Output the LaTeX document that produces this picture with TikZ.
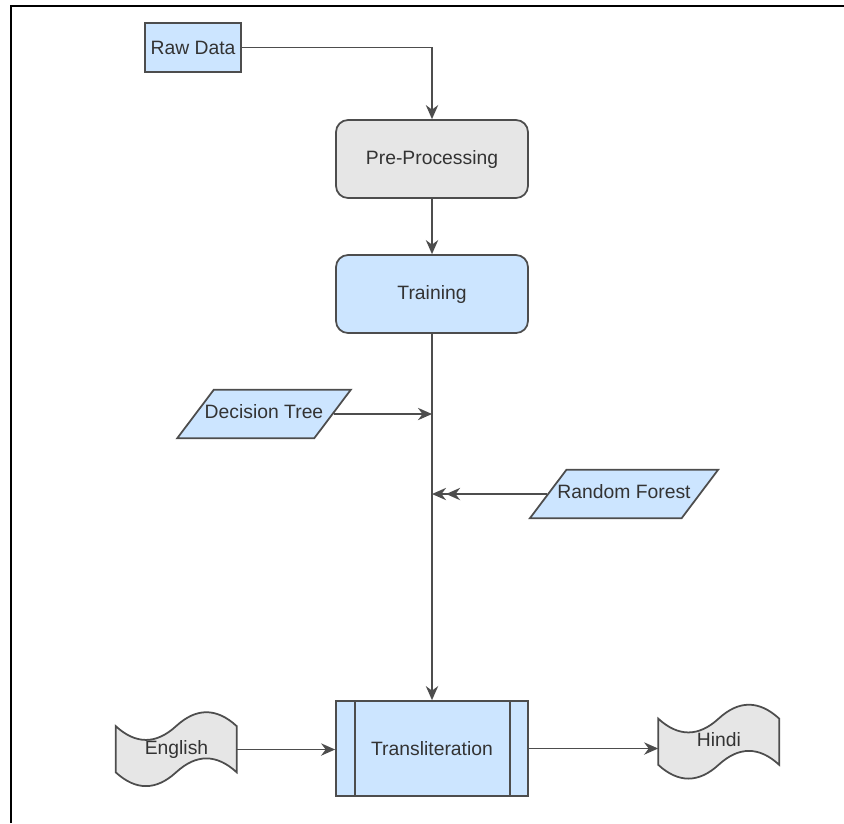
\documentclass[tikz,border=0pt]{standalone}
\usepackage{fontspec}
\setmainfont{Liberation Sans}
\usetikzlibrary{shapes.geometric,arrows.meta}

\definecolor{boxblue}{HTML}{CCE5FF}
\definecolor{boxgray}{HTML}{E6E6E6}
\definecolor{edgegray}{HTML}{4D4D4D}
\definecolor{textgray}{HTML}{333333}

\tikzset{
    box/.style={draw=edgegray, line width=1pt, text=textgray,
        font=\fontsize{11}{13}\selectfont, minimum width=3.84cm, minimum height=1.56cm},
    roundbox/.style={box, rounded corners=0.24cm},
    databox/.style={box, trapezium, trapezium left angle=53, trapezium right angle=127,
        fill=boxblue, inner xsep=-0.18cm, inner ysep=0.3cm, text height=8pt, text depth=2.5pt,
        minimum width=0, minimum height=0},
    wavebox/.style={text=textgray, font=\fontsize{11}{13}\selectfont,
        minimum width=2.42cm, minimum height=1.54cm},
    waveline/.style={draw=edgegray, line width=1pt, fill=boxgray},
    link/.style={draw=edgegray, line width=1pt, -{Stealth[length=8pt,width=7pt]}}
}

% Wavy tape outline round a named node
\newcommand{\tapeshape}[1]{%
    \path[waveline] ([shift={(0cm,-0.308cm)}]#1.north west)
        .. controls ([shift={(0.4033cm,-0.6776cm)}]#1.north west) and ([shift={(0.8067cm,-0.6776cm)}]#1.north west)
        .. ([shift={(1.21cm,-0.308cm)}]#1.north west)
        .. controls ([shift={(1.6133cm,0.0616cm)}]#1.north west) and ([shift={(2.0167cm,0.0616cm)}]#1.north west)
        .. ([shift={(2.42cm,-0.308cm)}]#1.north west)
        -- ([shift={(2.42cm,-1.232cm)}]#1.north west)
        .. controls ([shift={(2.0167cm,-0.8624cm)}]#1.north west) and ([shift={(1.6133cm,-0.8624cm)}]#1.north west)
        .. ([shift={(1.21cm,-1.232cm)}]#1.north west)
        .. controls ([shift={(0.8067cm,-1.6016cm)}]#1.north west) and ([shift={(0.4033cm,-1.6016cm)}]#1.north west)
        .. ([shift={(0cm,-1.232cm)}]#1.north west) -- cycle;}

\begin{document}
\begin{tikzpicture}[x=0.02cm, y=-0.02cm]

    % Fix the picture size to the reference
    \useasboundingbox (0,0) rectangle (844,823);

    % Frame along the top and the left side
    \draw[line width=1.2pt] (11,823) |- (844,6);

    % Main steps of the flow
    \node[box, fill=boxblue, minimum width=1.8cm, minimum height=0.98cm, line width=1.3pt] (raw) at (193,47.5) {Raw Data};
    \node[roundbox, fill=boxgray] (pre) at (432,159) {Pre-Processing};
    \node[roundbox, fill=boxblue] (train) at (432,294) {Training};
    \node[box, fill=boxblue, minimum height=1.9cm] (trans) at (432,748.5) {Transliteration};

    % Double side lines of the process box
    \draw[draw=edgegray, line width=1pt] ([xshift=0.4cm]trans.north west) -- ([xshift=0.4cm]trans.south west);
    \draw[draw=edgegray, line width=1pt] ([xshift=-0.38cm]trans.north east) -- ([xshift=-0.38cm]trans.south east);

    % Models feeding the training line
    \node[databox] (dt) at (264,414) {Decision Tree};
    \node[databox] (rf) at (624,494) {Random Forest};

    % Input and output languages
    \node[wavebox] (eng) at (176.5,749.5) {};
    \node[wavebox] (hindi) at (719,742) {};
    \tapeshape{eng}
    \tapeshape{hindi}
    \node[wavebox] at (eng.center) {English};
    \node[wavebox] at ([yshift=0.05cm]hindi.center) {Hindi};

    % Points where the models meet the training line
    \coordinate (dtin) at (train.south |- dt.east);
    \coordinate (rfin) at (train.south |- rf.west);

    % Connectors
    \draw[link] (raw.east) -| (pre.north);
    \draw[link] (pre) -- (train);
    \draw[link] (train) -- (trans);
    \draw[link] (dt.east) -- (dtin);
    \draw[link, -{Stealth[length=8pt,width=7pt]Stealth[length=8pt,width=7pt]}] (rf.west) -- (rfin);
    \draw[link] (eng.east) -- (eng.east -| trans.west);
    \draw[link] (trans.east) -- (trans.east -| hindi.west);

\end{tikzpicture}
\end{document}
